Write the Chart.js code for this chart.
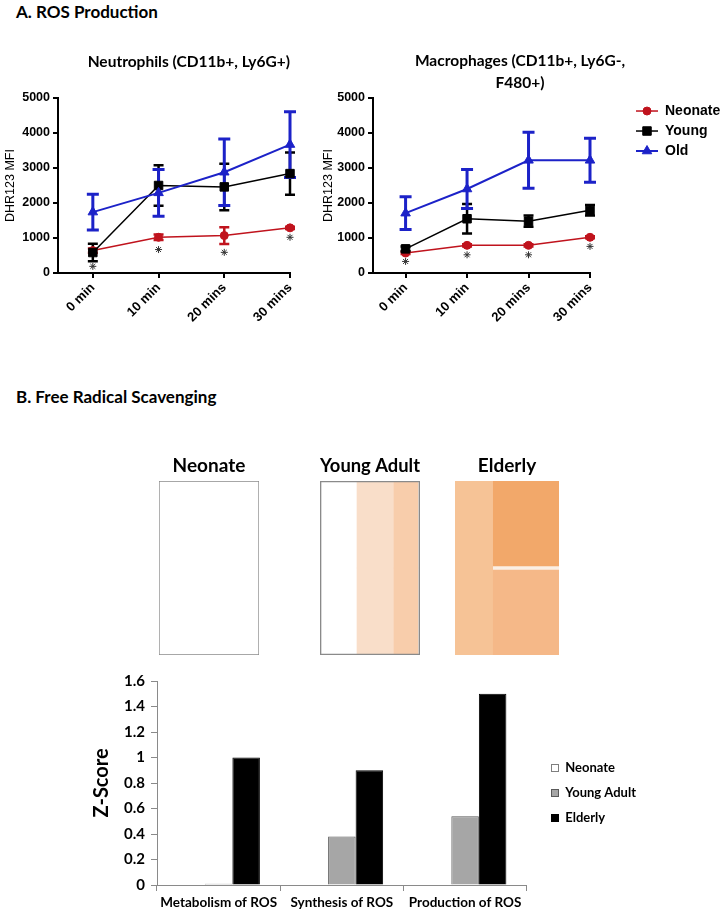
<!DOCTYPE html>
<html>
<head>
<meta charset="utf-8">
<script src="https://cdn.jsdelivr.net/npm/chart.js@4.4.0/dist/chart.umd.min.js"></script>
<style>
  body { margin:0; background:#fff; width:722px; height:918px; position:relative; overflow:hidden; }
  canvas { position:absolute; }
  .heading { position:absolute; left:16px; font-family:Lato, sans-serif; font-weight:700; font-size:17px; line-height:20px; color:#000; }
</style>
</head>
<body>
<div class="heading" style="top:2px">A. ROS Production</div>
<canvas id="neutChart" width="390" height="300" style="left:0;top:40px"></canvas>
<canvas id="macChart" width="404" height="300" style="left:318px;top:40px"></canvas>

<div class="heading" style="top:387px">B. Free Radical Scavenging</div>
<canvas id="heatNeonate" width="140" height="205" style="left:139px;top:450px"></canvas>
<canvas id="heatYoung" width="140" height="205" style="left:300px;top:450px"></canvas>
<canvas id="heatElderly" width="140" height="205" style="left:437px;top:450px"></canvas>
<canvas id="scoreChart" width="632" height="268" style="left:90px;top:650px"></canvas>

<script>
// ===== Data: A. ROS production (DHR123 MFI) =====
const timeLabels = ['0 min', '10 min', '20 mins', '30 mins'];
const groupNames = ['Neonate', 'Young', 'Old'];

const neutNeonate    = [640, 1020, 1070, 1290];
const neutNeonateErr = [60, 80, 240, 30];
const neutYoung      = [585, 2500, 2460, 2840];
const neutYoungErr   = [250, 580, 665, 605];
const neutOld        = [1740, 2290, 2880, 3670];
const neutOldErr     = [510, 670, 950, 940];
const neutStars      = [190, 670, 590, 1020];

const macNeonate    = [570, 790, 790, 1020];
const macNeonateErr = [30, 30, 30, 30];
const macYoung      = [690, 1550, 1480, 1790];
const macYoungErr   = [70, 420, 160, 150];
const macOld        = [1710, 2400, 3220, 3220];
const macOldErr     = [470, 560, 800, 630];
const macStars      = [330, 520, 520, 760];

// ===== Data: B. free radical scavenging =====
const heatTitles = ['Neonate', 'Young Adult', 'Elderly'];
const heatRows = ['upper', 'lower'];
// cells as [from, to] across the box, for the upper and lower half
const neonateBox   = [[0, 1], [0, 1]];
const youngBox     = [[0, 1], [0, 1]];
const youngStripe1 = [[0, 0.37], [0, 0.37]];
const youngStripe2 = [[0.37, 0.74], [0.37, 0.74]];
const youngStripe3 = [[0.74, 0.98], [0.74, 0.98]];
const elderlyLeft  = [[0, 0.365], [0, 0.365]];
const elderlyRight = [[0.365, 1], [0.365, 1]];

const scoreCategories = ['Metabolism of ROS', 'Synthesis of ROS', 'Production of ROS'];
const scoreGroups = ['Neonate', 'Young Adult', 'Elderly'];
const scoreNeonate    = [0, 0, 0];
const scoreYoungAdult = [0.01, 0.38, 0.54];
const scoreElderly    = [1.0, 0.9, 1.5];

// ===== Fonts / styles =====
const ARIAL   = "'Liberation Sans', Arial, sans-serif";
const CALIBRI = "Lato, 'Open Sans', sans-serif";
const LEGEND_SQUARE = 8;
const LEGEND_LINE = 22;

const lineStyles = [
  { color:'#C0131D', pointStyle:'circle',   radius:4,   width:1.5, errWidth:2.5, cap:5, order:3 },
  { color:'#000000', pointStyle:'rect',     radius:6,   width:1.5, errWidth:2.5, cap:5, order:2 },
  { color:'#1C22C8', pointStyle:'triangle', radius:5.5, width:2,   errWidth:3,   cap:6, order:1 }
];

// ===== Plugins =====
const errorBars = {
  id:'errorBars',
  beforeDatasetsDraw(chart){
    const ctx = chart.ctx, yScale = chart.scales.y;
    chart.data.datasets.forEach((ds, i) => {
      if (!ds.errorBars) return;
      const meta = chart.getDatasetMeta(i);
      ctx.save();
      ctx.strokeStyle = ds.borderColor;
      ctx.lineWidth = ds.errWidth;
      meta.data.forEach((pt, j) => {
        const v = ds.data[j].y, e = ds.errorBars[j];
        const top = yScale.getPixelForValue(v + e), bot = yScale.getPixelForValue(v - e);
        ctx.beginPath();
        ctx.moveTo(pt.x, top); ctx.lineTo(pt.x, bot);
        ctx.moveTo(pt.x - ds.cap, top); ctx.lineTo(pt.x + ds.cap, top);
        ctx.moveTo(pt.x - ds.cap, bot); ctx.lineTo(pt.x + ds.cap, bot);
        ctx.stroke();
      });
      ctx.restore();
    });
  }
};

// legend entries like Prism: short line with the marker on it
const legendMarkers = {
  id:'legendMarkers',
  afterDraw(chart){
    const lg = chart.legend;
    if (!lg || !lg.options.display || !lg.legendHitBoxes) return;
    const ctx = chart.ctx, bw = lg.options.labels.boxWidth;
    lg.legendItems.forEach((item, i) => {
      const box = lg.legendHitBoxes[i];
      const ds = chart.data.datasets[item.datasetIndex];
      const y = box.top + box.height / 2, x1 = box.left + bw, x0 = x1 - LEGEND_LINE;
      ctx.save();
      ctx.strokeStyle = ds.borderColor; ctx.fillStyle = ds.backgroundColor; ctx.lineWidth = ds.borderWidth;
      ctx.beginPath(); ctx.moveTo(x0, y); ctx.lineTo(x1, y); ctx.stroke();
      ctx.lineWidth = 1;
      Chart.helpers.drawPoint(ctx, { pointStyle: ds.pointStyle, radius: ds.pointRadius, borderWidth: 1, rotation: 0 }, (x0 + x1) / 2, y);
      ctx.restore();
    });
  }
};

// excel-like legend: small square sitting at the end of an empty legend box
const legendSquares = {
  id:'legendSquares',
  afterDraw(chart){
    const lg = chart.legend;
    if (!lg || !lg.options.display || !lg.legendHitBoxes) return;
    const ctx = chart.ctx, bw = lg.options.labels.boxWidth, s = LEGEND_SQUARE;
    lg.legendItems.forEach((item, i) => {
      const box = lg.legendHitBoxes[i];
      const ds = chart.data.datasets[item.datasetIndex];
      const y = Math.round(box.top + box.height / 2), x1 = Math.round(box.left + bw);
      ctx.save();
      ctx.fillStyle = ds.backgroundColor; ctx.fillRect(x1 - s, y - s / 2, s, s);
      ctx.strokeStyle = ds.borderColor; ctx.lineWidth = 1; ctx.strokeRect(x1 - s + 0.5, y - s / 2 + 0.5, s - 1, s - 1);
      ctx.restore();
    });
  }
};

const hiddenBoxes = chart => Chart.defaults.plugins.legend.labels.generateLabels(chart)
  .filter(it => it.text)
  .map(it => Object.assign(it, { fillStyle:'rgba(0,0,0,0)', strokeStyle:'rgba(0,0,0,0)', lineWidth:0 }));

// ===== Line charts =====
const xy = vals => vals.map((v, i) => ({ x: i, y: v }));

function lineDatasets(values, errors, stars){
  const ds = values.map((vals, k) => {
    const s = lineStyles[k];
    return {
      label: groupNames[k], data: xy(vals), errorBars: errors[k], errWidth: s.errWidth, cap: s.cap,
      borderColor: s.color, backgroundColor: s.color, borderWidth: s.width, tension: 0,
      pointStyle: s.pointStyle, pointRadius: s.radius, pointBorderWidth: 1, order: s.order, clip: false
    };
  });
  ds.push({ label:'', data: xy(stars), showLine:false, pointStyle:'star', pointRadius:3.5,
    pointBorderWidth:1, borderColor:'#333', backgroundColor:'#333', order:0, clip:false });
  return ds;
}

function lineOptions(title, titleAlign, titlePad, yWidth, rightPad, showLegend){
  return {
    responsive:false, animation:false,
    layout:{ padding:{ left:0, right:rightPad, bottom:0 } },
    scales:{
      x:{ type:'linear', min:-0.53, max:3,
        ticks:{ stepSize:1, includeBounds:false, autoSkip:false, maxRotation:45, minRotation:45, padding:2,
          color:'#000', font:{ family:ARIAL, size:13, weight:'bold' }, callback: v => timeLabels[v] },
        grid:{ drawOnChartArea:false, tickLength:5, color:'#000', lineWidth:2 },
        border:{ color:'#000', width:2 },
        afterFit: s => { s.height = 67; } },
      y:{ min:0, max:5000,
        ticks:{ stepSize:1000, padding:3, color:'#000', font:{ family:ARIAL, size:12.5, weight:'bold' }, callback: v => String(v) },
        grid:{ drawOnChartArea:false, tickLength:5, color:'#000', lineWidth:2 },
        border:{ color:'#000', width:2 },
        title:{ display:true, text:'DHR123 MFI', color:'#000', padding:{ top:3, bottom:0 }, font:{ family:ARIAL, size:12.5 } },
        afterFit: s => { s.width = yWidth; } }
    },
    plugins:{
      title:{ display:true, text:title, align:titleAlign, color:'#000', padding:titlePad,
        font:{ family:CALIBRI, size:15.5, weight:'bold', lineHeight:1.42 } },
      legend:{ display:showLegend, position:'right', align:'start', fullSize:false, maxWidth:132,
        labels:{ boxWidth:62, boxHeight:14, padding:6, color:'#000', font:{ family:ARIAL, size:14, weight:'bold' },
          sort:(a, b) => a.datasetIndex - b.datasetIndex, generateLabels: hiddenBoxes } },
      tooltip:{ enabled:false }
    }
  };
}

new Chart(document.getElementById('neutChart'), {
  type:'line',
  data:{ datasets: lineDatasets([neutNeonate, neutYoung, neutOld], [neutNeonateErr, neutYoungErr, neutOldErr], neutStars) },
  options: lineOptions('Neutrophils (CD11b+, Ly6G+)', 'end', { top:11, bottom:25 }, 58, 100, false),
  plugins:[errorBars]
});

new Chart(document.getElementById('macChart'), {
  type:'line',
  data:{ datasets: lineDatasets([macNeonate, macYoung, macOld], [macNeonateErr, macYoungErr, macOldErr], macStars) },
  options: lineOptions(['Macrophages (CD11b+, Ly6G-,', 'F480+)'], 'center', { top:10, bottom:4 }, 55, 0, true),
  plugins:[errorBars, legendMarkers]
});

// ===== Heat map boxes =====
function heatOptions(title, padX){
  return {
    responsive:false, animation:false, indexAxis:'y',
    layout:{ padding:{ left:padX, right:padX, top:0, bottom:0 } },
    scales:{ x:{ type:'linear', min:0, max:1, display:false }, y:{ display:false } },
    datasets:{ bar:{ grouped:false, barPercentage:1, categoryPercentage:1, borderSkipped:false } },
    plugins:{
      legend:{ display:false }, tooltip:{ enabled:false },
      title:{ display:true, text:title, color:'#000', padding:{ top:4, bottom:4.2 },
        font:{ family:CALIBRI, size:19, weight:'bold', lineHeight:1.2 } }
    }
  };
}
const outlineWidth = c => c.dataIndex === 0 ? { top:1, left:1, right:1, bottom:0 } : { top:0, left:1, right:1, bottom:1 };
const splitWidth = c => c.dataIndex === 0 ? { top:0, left:0, right:0, bottom:2 } : { top:2, left:0, right:0, bottom:0 };

new Chart(document.getElementById('heatNeonate'), {
  type:'bar',
  data:{ labels: heatRows, datasets:[
    { data: neonateBox, backgroundColor:'#ffffff', borderColor:'#8a8a8a', borderWidth: outlineWidth }
  ]},
  options: heatOptions(heatTitles[0], 20)
});

new Chart(document.getElementById('heatYoung'), {
  type:'bar',
  data:{ labels: heatRows, datasets:[
    { data: youngBox, backgroundColor:'rgba(0,0,0,0)', borderColor:'#8a8a8a', borderWidth: outlineWidth },
    { data: youngStripe3, backgroundColor:'#F8CDAB', borderWidth:0 },
    { data: youngStripe2, backgroundColor:'#F9DEC9', borderWidth:0 },
    { data: youngStripe1, backgroundColor:'#ffffff', borderWidth:0 }
  ]},
  options: heatOptions(heatTitles[1], 20)
});

new Chart(document.getElementById('heatElderly'), {
  type:'bar',
  data:{ labels: heatRows, datasets:[
    { data: elderlyRight, backgroundColor:['#F2A86A', '#F5B888'], borderColor:'#FBEFE4', borderWidth: splitWidth },
    { data: elderlyLeft, backgroundColor:'#F6C396', borderWidth:0 }
  ]},
  options: heatOptions(heatTitles[2], 18)
});

// ===== Z-score bars =====
new Chart(document.getElementById('scoreChart'), {
  type:'bar',
  data:{ labels: scoreCategories, datasets:[
    { label: scoreGroups[0], data: scoreNeonate, backgroundColor:'#ffffff', borderColor:'#7f7f7f', borderWidth:1 },
    { label: scoreGroups[1], data: scoreYoungAdult, backgroundColor:'#a6a6a6', borderColor:'#5a5a5a', borderWidth:1 },
    { label: scoreGroups[2], data: scoreElderly, backgroundColor:'#000000', borderColor:'#000000', borderWidth:1 }
  ]},
  options:{
    responsive:false, animation:false,
    layout:{ padding:{ top:31, right:76, left:0, bottom:0 } },
    datasets:{ bar:{ categoryPercentage:0.67, barPercentage:1 } },
    scales:{
      x:{ grid:{ offset:true, drawOnChartArea:false, tickLength:6, color:'#8a8a8a' },
        border:{ color:'#8a8a8a' },
        ticks:{ autoSkip:false, maxRotation:0, padding:4, color:'#000', font:{ family:CALIBRI, size:13.5, weight:'bold' } },
        afterFit: s => { s.height = 33; } },
      y:{ min:0, max:1.6,
        ticks:{ stepSize:0.2, padding:6, color:'#000', font:{ family:CALIBRI, size:15, weight:'bold' },
          callback: v => String(+v.toFixed(1)) },
        grid:{ drawOnChartArea:false, tickLength:6, color:'#8a8a8a' },
        border:{ color:'#8a8a8a' },
        title:{ display:true, text:'Z-Score', color:'#000', padding:0, font:{ family:CALIBRI, size:20, weight:'bold' } },
        afterFit: s => { s.width = 67; } }
    },
    plugins:{
      legend:{ position:'right', align:'center', fullSize:false, maxWidth:200,
        title:{ display:true, text:'', padding:{ top:10, bottom:0 }, font:{ size:10, lineHeight:1 } },
        labels:{ boxWidth:20, boxHeight:13, padding:12, color:'#000', font:{ family:CALIBRI, size:13, weight:'bold' },
          generateLabels: hiddenBoxes } },
      tooltip:{ enabled:false }
    }
  },
  plugins:[legendSquares]
});
</script>
</body>
</html>
